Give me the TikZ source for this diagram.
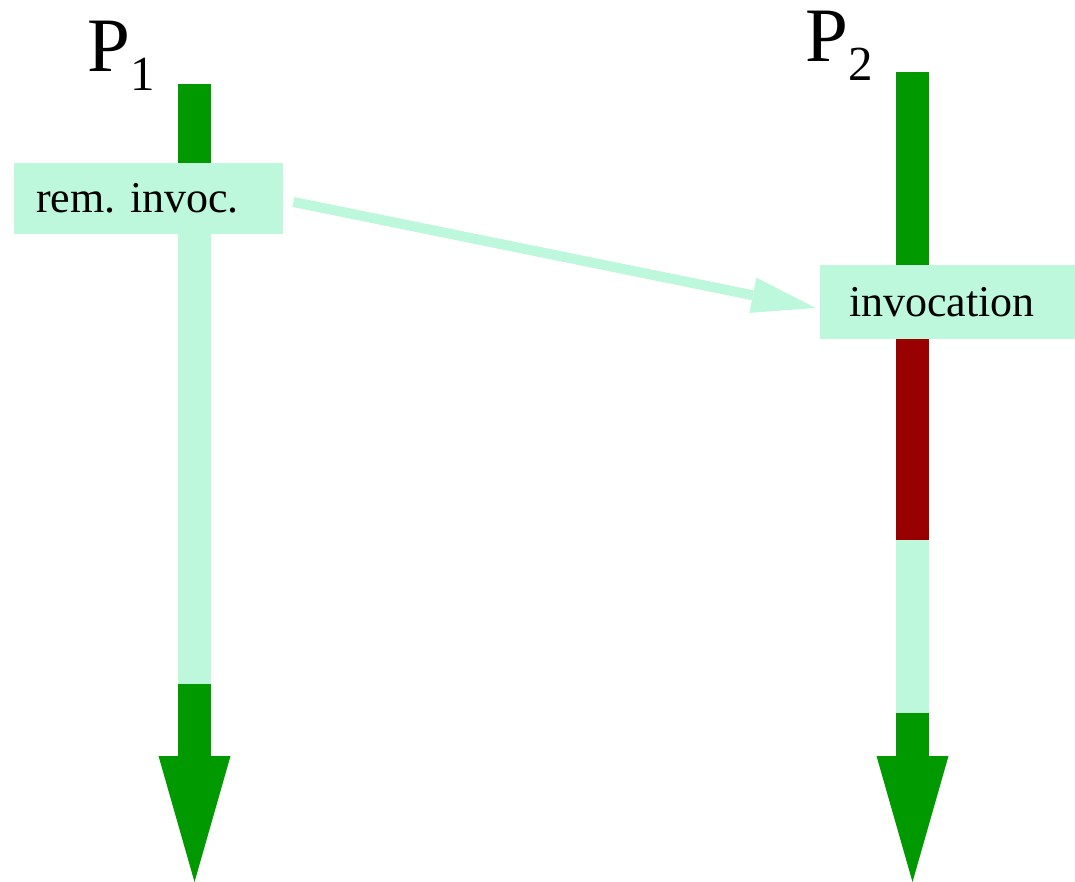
\documentclass[tikz,border=0pt]{standalone}
\usepackage{fontspec}
\setmainfont{Liberation Serif}
\newfontfamily\timesfont{Liberation Serif}
\usepackage{xcolor}
\definecolor{lifeGreen}{HTML}{009900}
\definecolor{callMint}{HTML}{BDF7DC}
\definecolor{busyRed}{HTML}{990000}
\usetikzlibrary{arrows.meta, positioning, calc}
\newcommand{\procname}[1]{P\raisebox{-9.5pt}{\fontsize{24.5}{26}\selectfont #1}}
\frenchspacing

\begin{document}
\begin{tikzpicture}[
    x=0.5pt, y=-0.5pt,
    lifeSeg/.style={line width=16.5pt},
    lifeEnd/.style={line width=16.5pt, draw=lifeGreen, -{Triangle[length=63pt, width=36pt, line width=0pt]}},
    procLabel/.style={anchor=base west, inner sep=0pt, font=\timesfont\fontsize{38.5}{40}\selectfont},
    callBox/.style={fill=callMint, inner ysep=0pt, align=left, font=\timesfont\fontsize{22}{24}\selectfont},
    msgArrow/.style={draw=callMint, line width=5pt, -{Triangle[length=32pt, width=18pt, line width=0pt]}}
]
\useasboundingbox (0,0) rectangle (1075,882);

% Timeline P1
\coordinate (p1Top) at (194.5,84);
\coordinate (p1Call) at (194.5,198.5);
\coordinate (p1Back) at (194.5,684);
\coordinate (p1End) at (194.5,882);
\draw[lifeSeg, lifeGreen] (p1Top) -- (p1Call);
\draw[lifeSeg, callMint] (p1Call) -- (p1Back);
\draw[lifeEnd] (p1Back) -- (p1End);

% Timeline P2
\coordinate (p2Top) at (912.5,72);
\coordinate (p2Call) at (912.5,302);
\coordinate (p2Done) at (912.5,540);
\coordinate (p2Back) at (912.5,713);
\coordinate (p2End) at (912.5,882);
\draw[lifeSeg, lifeGreen] (p2Top) -- (p2Call);
\draw[lifeSeg, busyRed] (p2Call) -- (p2Done);
\draw[lifeSeg, callMint] (p2Done) -- (p2Back);
\draw[lifeEnd] (p2Back) -- (p2End);

% Process labels
\node[procLabel] (p1Label) at (87,72) {\procname{1}};
\node[procLabel] (p2Label) at (805,62) {\procname{2}};

% Call boxes
\node[callBox, text width=112.5pt, inner xsep=11pt, minimum height=35.5pt] (remBox) at (148.5,198.5) {rem. invoc.};
\node[callBox, text width=98.5pt, inner xsep=14.5pt, minimum height=37pt] (invBox) at (947.5,302) {invocation};

% Message
\draw[msgArrow] ($(remBox.east)+(10,3.5)$) -- ($(invBox.west)+(-4,6)$);

\end{tikzpicture}
\end{document}
